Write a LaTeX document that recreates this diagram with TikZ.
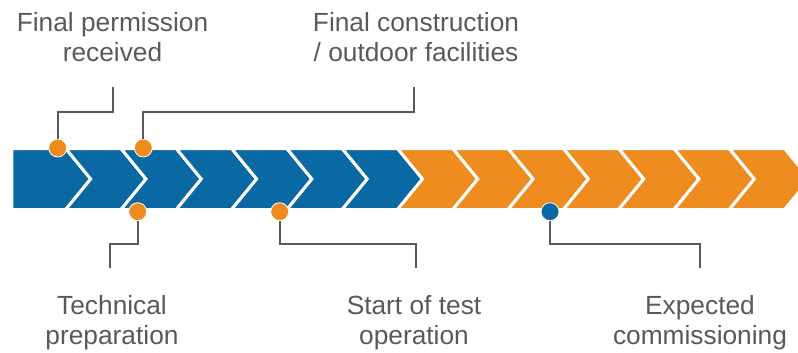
\documentclass[tikz,border=0pt]{standalone}
\usepackage{fontspec}
\setmainfont{Liberation Sans}
\definecolor{barblue}{HTML}{0A68A3}
\definecolor{barorange}{HTML}{EE8C20}
\definecolor{linegray}{HTML}{595959}
\tikzset{
    chev/.style = {draw = white, line width = 3pt, line join = miter},
    dot/.style = {circle, draw = white, line width = 0.8pt, minimum size = 18pt, inner sep = 0pt},
    link/.style = {draw = linegray, line width = 2pt},
    note/.style = {text = linegray, align = center, inner sep = 0pt, anchor = base, font = \fontsize{26.3}{30}\selectfont}
}
\begin{document}
\begin{tikzpicture}[x = 1pt, y = -1pt]
            \useasboundingbox (0,0) rectangle (798,353);
            \clip (0,0) rectangle (798,353);
            % the bar
            \draw[chev, fill = barblue] (11.8,148.5) -- (65.7,148.5) -- (90.7,179) -- (65.7,209.5) -- (11.8,209.5) -- cycle;
            \foreach \i in {1,...,6}
                \draw[chev, fill = barblue] ({10.4+55.3*\i},148.5) -- ({65.7+55.3*\i},148.5) -- ({90.7+55.3*\i},179)
                    -- ({65.7+55.3*\i},209.5) -- ({10.4+55.3*\i},209.5) -- ({35.4+55.3*\i},179) -- cycle;
            \foreach \i in {7,...,13}
                \draw[chev, fill = barorange] ({10.4+55.3*\i},148.5) -- ({65.7+55.3*\i},148.5) -- ({90.7+55.3*\i},179)
                    -- ({65.7+55.3*\i},209.5) -- ({10.4+55.3*\i},209.5) -- ({35.4+55.3*\i},179) -- cycle;
            % milestones
            \node[dot, fill = barorange] (d1) at (57.7,148) {};
            \node[dot, fill = barorange] (d2) at (143.3,148) {};
            \node[dot, fill = barorange] (d3) at (137.7,211.7) {};
            \node[dot, fill = barorange] (d4) at (279.7,211.7) {};
            \node[dot, fill = barblue] (d5) at (550,211.7) {};
            \node[note] (n1) at (112.5,61.7) {Final permission\\received};
            \node[note] (n2) at (416,61.7) {Final construction\\/ outdoor facilities};
            \node[note] (n3) at (112,344.5) {Technical\\preparation};
            \node[note] (n4) at (414,344.5) {Start of test\\operation};
            \node[note] (n5) at (700,344) {Expected\\commissioning};
            \coordinate (k1) at (113,112);
            \coordinate (e1) at (113,87);
            \coordinate (k2) at (414,112);
            \coordinate (e2) at (414,87);
            \coordinate (k3) at (110.3,244);
            \coordinate (e3) at (110.3,268.3);
            \coordinate (k4) at (415.7,244);
            \coordinate (e4) at (415.7,268.3);
            \coordinate (k5) at (700,243.5);
            \coordinate (e5) at (700,268);
            \draw[link] (d1.north) |- (k1) -- (e1);
            \draw[link] (d2.north) |- (k2) -- (e2);
            \draw[link] (d3.south) |- (k3) -- (e3);
            \draw[link] (d4.south) |- (k4) -- (e4);
            \draw[link] (d5.south) |- (k5) -- (e5);
\end{tikzpicture}
\end{document}
